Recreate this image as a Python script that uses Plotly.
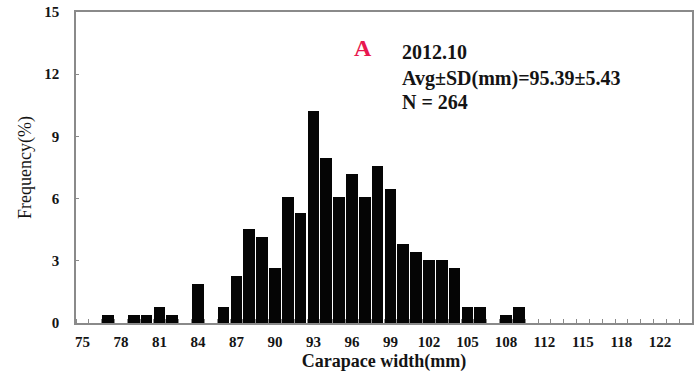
import plotly.graph_objects as go

# Carapace width bins (mm) that hold at least one crab, and their share of the sample (%)
carapace_width = [77, 79, 80, 81, 82, 84, 86, 87, 88, 89, 90, 91, 92, 93, 94, 95,
                  96, 97, 98, 99, 100, 101, 102, 103, 104, 105, 106, 108, 109]
frequency_pct = [0.38, 0.38, 0.38, 0.76, 0.38, 1.89, 0.76, 2.27, 4.55, 4.17, 2.65,
                 6.06, 5.30, 10.23, 7.95, 6.06, 7.20, 6.06, 7.58, 6.44, 3.79, 3.41,
                 3.03, 3.03, 2.65, 0.76, 0.76, 0.38, 0.76]

# Axis layout: 48 one-mm bins starting at 75, labelled every third bin
first_bin = 75
n_bins = 48
tick_bins = list(range(first_bin, first_bin + n_bins, 3))
tick_labels = ["75", "78", "81", "84", "87", "90", "93", "96", "99", "102",
               "105", "108", "112", "115", "118", "122"]
y_ticks = [0, 3, 6, 9, 12, 15]

serif = "Liberation Serif, Times New Roman, serif"
axis_grey = "#8a8a8a"
ink = "#141414"

fig = go.Figure(
    go.Bar(
        x=carapace_width,
        y=frequency_pct,
        width=0.9,
        marker=dict(color="#050505", line=dict(width=0)),
    )
)

fig.update_xaxes(
    range=[first_bin - 0.5, first_bin + n_bins - 0.5],
    tickmode="array",
    tickvals=tick_bins,
    ticktext=[f"<b>{t}</b>" for t in tick_labels],
    ticks="",
    ticklabelstandoff=4,
    tickfont=dict(family=serif, size=15, color=ink),
    showline=True,
    linecolor=axis_grey,
    linewidth=1.5,
    mirror=True,
    showgrid=False,
    zeroline=False,
    automargin=False,
    minor=dict(
        tickmode="linear",
        tick0=first_bin - 0.5,
        dtick=1,
        ticks="inside",
        ticklen=4,
        tickcolor=axis_grey,
        tickwidth=1,
        showgrid=False,
    ),
    title=dict(
        text="<b>Carapace width(mm)</b>",
        font=dict(family=serif, size=18, color=ink),
        standoff=6,
    ),
)

fig.update_yaxes(
    range=[0, 15],
    tickmode="array",
    tickvals=y_ticks,
    ticktext=[f"<b>{v}</b>" for v in y_ticks],
    ticks="inside",
    ticklen=3,
    tickcolor=axis_grey,
    ticklabelstandoff=12,
    tickfont=dict(family=serif, size=15, color=ink),
    showline=True,
    linecolor=axis_grey,
    linewidth=1.5,
    mirror=True,
    showgrid=False,
    zeroline=False,
    automargin=False,
    title=dict(
        text="Frequency(%)",
        font=dict(family=serif, size=18, color=ink),
        standoff=8,
    ),
)

# Header text: (label, x px, y px, size, colour, anchor)
header = [
    ("<b>A</b>", 363, 48, 24, "#e8184f", "center"),
    ("<b>2012.10</b>", 400, 52, 20, ink, "left"),
    ("<b>Avg±SD(mm)=95.39±5.43</b>", 400, 78, 20, ink, "left"),
    ("<b>N = 264</b>", 400, 102, 20, ink, "left"),
]

plot_l, plot_t = 76, 12
plot_w, plot_h = 698 - 76 - 6, 374 - 12 - 51
annotations = [
    dict(text=txt, xref="paper", yref="paper",
         x=(px - plot_l) / plot_w, y=1 - (py - plot_t) / plot_h,
         xanchor=anchor, yanchor="middle", showarrow=False,
         font=dict(family=serif, size=size, color=color))
    for txt, px, py, size, color, anchor in header
]

fig.update_layout(
    width=698,
    height=374,
    margin=dict(l=76, r=6, t=12, b=51, autoexpand=False),
    paper_bgcolor="white",
    plot_bgcolor="white",
    showlegend=False,
    bargap=0,
    annotations=annotations,
)

fig.write_html("out.html")
